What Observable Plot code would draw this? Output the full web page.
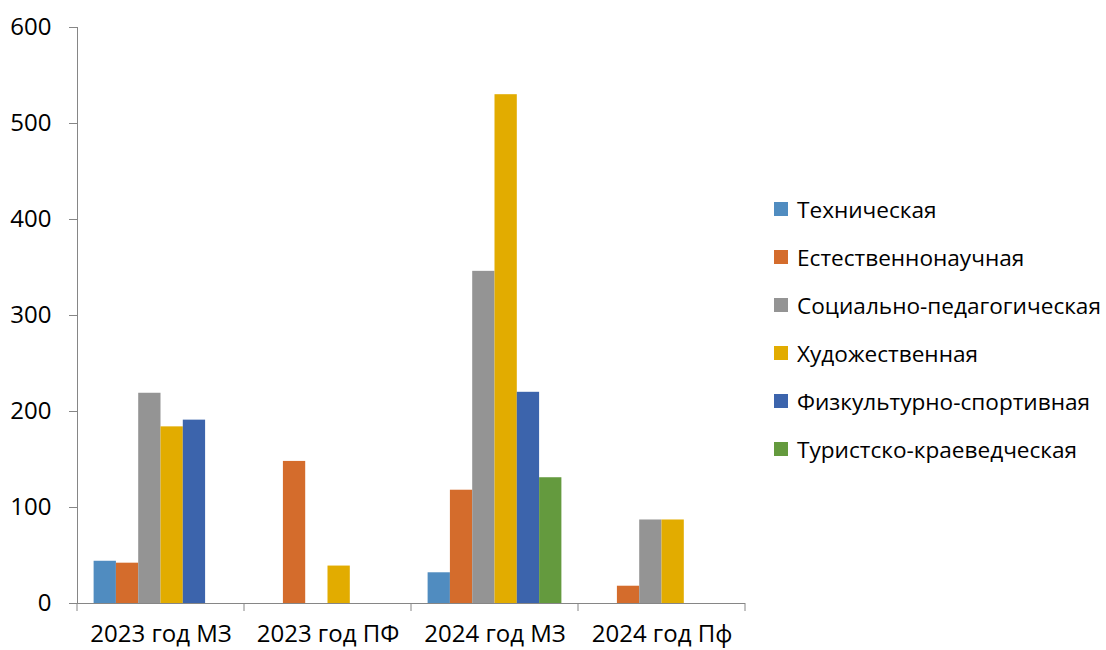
<!DOCTYPE html>
<html>
<head>
<meta charset="utf-8">
<script src="https://cdn.jsdelivr.net/npm/d3@7"></script>
<script src="https://cdn.jsdelivr.net/npm/@observablehq/plot@0.6"></script>
<style>
  html, body { margin: 0; padding: 0; background: #fff; overflow: hidden; }
  #wrap { position: relative; width: 1106px; height: 650px; font-family: "Open Sans", "Noto Sans", sans-serif; }
  #chart { position: absolute; left: 0; top: 0; }
  #chart svg { color: #868686; }
  #chart svg text { fill: #000; }
  #legend { position: absolute; left: 774px; top: 185px; }
  .item { display: flex; align-items: center; height: 48px; font-size: 22.6px; color: #000; white-space: nowrap; }
  .sw { width: 14px; height: 14px; margin-right: 9px; flex: none; }
</style>
</head>
<body>
<div id="wrap"><div id="chart"></div><div id="legend"></div></div>
<script>
const categories = ["2023 год МЗ", "2023 год ПФ", "2024 год МЗ", "2024 год Пф"];
const series = ["Техническая", "Естественнонаучная", "Социально-педагогическая", "Художественная", "Физкультурно-спортивная", "Туристско-краеведческая"];
const colors = ["#508CC0", "#D46C2C", "#949494", "#E2AC00", "#3C64AC", "#649A3E"];
const technical = [44, null, 32, null];
const naturalScience = [42, 148, 118, 18];
const socialPedagogical = [219, null, 346, 87];
const artistic = [184, 39, 530, 87];
const sports = [191, null, 220, null];
const tourism = [null, null, 131, null];
const yTicks = [0, 100, 200, 300, 400, 500, 600];

const seriesValues = [technical, naturalScience, socialPedagogical, artistic, sports, tourism];
const data = [];
categories.forEach((c, i) => series.forEach((s, j) => {
  if (seriesValues[j][i] != null) data.push({category: c, series: s, value: seriesValues[j][i]});
}));

const plot = Plot.plot({
  width: 760,
  height: 650,
  marginLeft: 75,
  marginRight: 14,
  marginTop: 27,
  marginBottom: 47,
  style: {fontSize: "24px", fontFamily: "'Open Sans', 'Noto Sans', sans-serif", background: "#fff", overflow: "visible"},
  fx: {domain: categories, padding: 0, axis: "bottom", label: null, tickSize: 0, tickPadding: 21},
  x: {domain: series, axis: null, paddingInner: 0, paddingOuter: 0.745, round: false},
  y: {domain: [0, 600], ticks: yTicks, tickSize: 8, tickPadding: 18, label: null, line: true},
  color: {domain: series, range: colors},
  marks: [
    Plot.barY(data, {fx: "category", x: "series", y: "value", fill: "series"}),
    Plot.ruleY([0], {stroke: "#868686"})
  ]
});
document.getElementById("chart").appendChild(plot);

// category boundary tick marks along the x axis, from the fx scale
const fx = plot.scale("fx");
const ys = plot.scale("y");
const y0 = ys.apply(0);
const svg = d3.select(plot.tagName.toLowerCase() === "svg" ? plot : plot.querySelector("svg"));
const bounds = categories.map(c => fx.apply(c)).concat([fx.apply(categories[categories.length - 1]) + fx.bandwidth]);
svg.append("g").attr("stroke", "#868686")
  .selectAll("line").data(bounds).join("line")
  .attr("x1", d => d).attr("x2", d => d)
  .attr("y1", y0).attr("y2", y0 + 8);

const legend = d3.select("#legend");
series.forEach((s, i) => {
  const it = legend.append("div").attr("class", "item");
  it.append("div").attr("class", "sw").style("background", colors[i]);
  it.append("span").text(s);
});
</script>
</body>
</html>
